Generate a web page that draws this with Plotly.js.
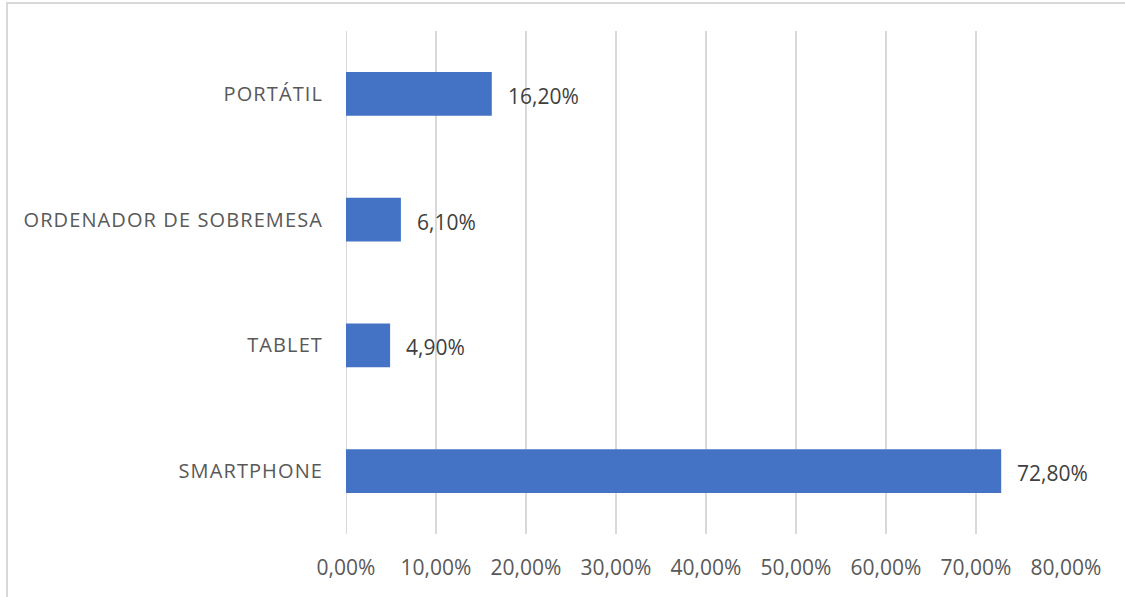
<!DOCTYPE html>
<html>
<head>
<meta charset="utf-8">
<script src="https://cdn.plot.ly/plotly-3.0.1.min.js"></script>
<style>
html, body { margin:0; padding:0; overflow:hidden; background:#fff; }
#chart { position:absolute; left:0; top:0; width:1125px; height:597px; }
#frame { position:absolute; left:6px; top:2px; width:1200px; height:700px; border:2px solid #d9d9d9; box-sizing:border-box; pointer-events:none; }
#chart .ytick text { letter-spacing: 1.1px; }
</style>
</head>
<body>
<div id="chart"></div>
<div id="frame"></div>
<script>
const categories = ["SMARTPHONE", "TABLET", "ORDENADOR DE SOBREMESA", "PORTÁTIL"];
const values = [72.8, 4.9, 6.1, 16.2];
const tickValues = [0, 10, 20, 30, 40, 50, 60, 70, 80];

const fmt = v => v.toFixed(2).replace('.', ',') + '%';

const trace = {
  type: 'bar',
  orientation: 'h',
  x: values,
  y: categories,
  marker: { color: '#4472C4' },
  hoverinfo: 'none'
};

const annotations = categories.map((c, i) => ({
  x: values[i], y: c, xref: 'x', yref: 'y',
  text: fmt(values[i]), showarrow: false,
  xanchor: 'left', yanchor: 'middle', xshift: 14, yshift: -2,
  font: { family: 'Open Sans', size: 21, color: '#404040' }
}));

const layout = {
  width: 1125, height: 597,
  margin: { l: 346, r: 59, t: 31, b: 63 },
  paper_bgcolor: '#ffffff', plot_bgcolor: '#ffffff',
  separators: ',.',
  bargap: 0.654,
  showlegend: false,
  font: { family: 'Open Sans', size: 21, color: '#595959' },
  xaxis: {
    range: [0, 80],
    tickvals: tickValues,
    ticktext: tickValues.map(fmt),
    showgrid: true, gridcolor: '#d9d9d9', gridwidth: 2,
    zeroline: false, showline: false,
    ticks: '', ticklabelstandoff: 19,
    tickfont: { family: 'Open Sans', size: 21, color: '#595959' },
    fixedrange: true
  },
  yaxis: {
    showgrid: false, zeroline: false, showline: false,
    ticks: '', ticklabelstandoff: 22,
    tickfont: { family: 'Open Sans', size: 20, color: '#595959' },
    fixedrange: true
  },
  shapes: [{
    type: 'line', xref: 'x', yref: 'paper', x0: 0, x1: 0, y0: 0, y1: 1,
    line: { color: '#d9d9d9', width: 2 }, layer: 'below'
  }],
  annotations: annotations
};

Plotly.newPlot('chart', [trace], layout, { displayModeBar: false, staticPlot: true });
</script>
</body>
</html>
